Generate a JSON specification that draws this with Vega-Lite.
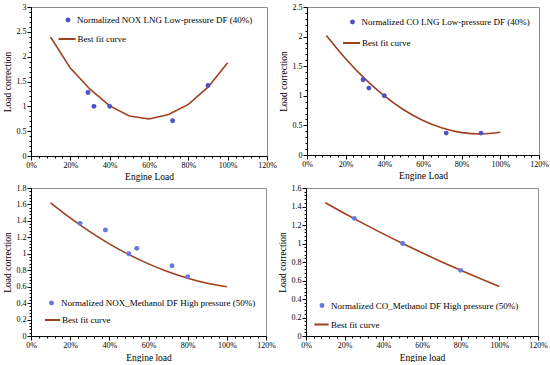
{
  "$schema": "https://vega.github.io/schema/vega-lite/v6.json",
  "padding": {"left": 1, "top": 2, "right": 0, "bottom": 0},
  "background": "white",
  "config": {
    "font": "Liberation Serif",
    "view": {"stroke": "#8c8c8c", "strokeWidth": 1},
    "axis": {
      "grid": false,
      "domainColor": "#000000",
      "tickColor": "#000000",
      "labelColor": "#000000",
      "titleColor": "#000000",
      "labelFont": "Liberation Serif",
      "titleFont": "Liberation Serif",
      "labelFontSize": 8,
      "titleFontSize": 9.5,
      "titleFontWeight": "normal",
      "tickSize": 3,
      "labelPadding": 1,
      "labelFlush": false,
      "labelOverlap": false
    },
    "legend": {
      "labelFont": "Liberation Serif",
      "labelFontSize": 9,
      "labelColor": "#000000",
      "labelLimit": 400,
      "padding": 0,
      "rowPadding": 4
    }
  },
  "datasets": {
    "p1pts": [
      {"load": 0.29, "value": 1.28, "series": "Normalized NOX LNG Low-pressure DF (40%)"},
      {"load": 0.32, "value": 1.0, "series": "Normalized NOX LNG Low-pressure DF (40%)"},
      {"load": 0.40, "value": 1.0, "series": "Normalized NOX LNG Low-pressure DF (40%)"},
      {"load": 0.72, "value": 0.71, "series": "Normalized NOX LNG Low-pressure DF (40%)"},
      {"load": 0.90, "value": 1.42, "series": "Normalized NOX LNG Low-pressure DF (40%)"}
    ],
    "p1fit": [
      {"load": 0.1, "value": 2.39, "series": "Best fit curve"},
      {"load": 0.2, "value": 1.77, "series": "Best fit curve"},
      {"load": 0.3, "value": 1.345, "series": "Best fit curve"},
      {"load": 0.4, "value": 1.01, "series": "Best fit curve"},
      {"load": 0.5, "value": 0.807, "series": "Best fit curve"},
      {"load": 0.6, "value": 0.746, "series": "Best fit curve"},
      {"load": 0.7, "value": 0.834, "series": "Best fit curve"},
      {"load": 0.8, "value": 1.04, "series": "Best fit curve"},
      {"load": 0.9, "value": 1.385, "series": "Best fit curve"},
      {"load": 1.0, "value": 1.88, "series": "Best fit curve"}
    ],
    "p2pts": [
      {"load": 0.29, "value": 1.27, "series": "Normalized CO LNG Low-pressure DF (40%)"},
      {"load": 0.32, "value": 1.13, "series": "Normalized CO LNG Low-pressure DF (40%)"},
      {"load": 0.40, "value": 1.0, "series": "Normalized CO LNG Low-pressure DF (40%)"},
      {"load": 0.72, "value": 0.37, "series": "Normalized CO LNG Low-pressure DF (40%)"},
      {"load": 0.90, "value": 0.37, "series": "Normalized CO LNG Low-pressure DF (40%)"}
    ],
    "p2fit": [
      {"load": 0.1, "value": 2.02, "series": "Best fit curve"},
      {"load": 0.2, "value": 1.627, "series": "Best fit curve"},
      {"load": 0.3, "value": 1.287, "series": "Best fit curve"},
      {"load": 0.4, "value": 1.0, "series": "Best fit curve"},
      {"load": 0.5, "value": 0.765, "series": "Best fit curve"},
      {"load": 0.6, "value": 0.584, "series": "Best fit curve"},
      {"load": 0.7, "value": 0.455, "series": "Best fit curve"},
      {"load": 0.8, "value": 0.378, "series": "Best fit curve"},
      {"load": 0.9, "value": 0.355, "series": "Best fit curve"},
      {"load": 1.0, "value": 0.384, "series": "Best fit curve"}
    ],
    "p3pts": [
      {"load": 0.25, "value": 1.37, "series": "Normalized NOX_Methanol DF High pressure (50%)"},
      {"load": 0.38, "value": 1.29, "series": "Normalized NOX_Methanol DF High pressure (50%)"},
      {"load": 0.50, "value": 1.0, "series": "Normalized NOX_Methanol DF High pressure (50%)"},
      {"load": 0.54, "value": 1.066, "series": "Normalized NOX_Methanol DF High pressure (50%)"},
      {"load": 0.72, "value": 0.855, "series": "Normalized NOX_Methanol DF High pressure (50%)"},
      {"load": 0.80, "value": 0.72, "series": "Normalized NOX_Methanol DF High pressure (50%)"}
    ],
    "p3fit": [
      {"load": 0.1, "value": 1.62, "series": "Best fit curve"},
      {"load": 0.2, "value": 1.436, "series": "Best fit curve"},
      {"load": 0.3, "value": 1.27, "series": "Best fit curve"},
      {"load": 0.4, "value": 1.121, "series": "Best fit curve"},
      {"load": 0.5, "value": 0.99, "series": "Best fit curve"},
      {"load": 0.6, "value": 0.877, "series": "Best fit curve"},
      {"load": 0.7, "value": 0.781, "series": "Best fit curve"},
      {"load": 0.8, "value": 0.703, "series": "Best fit curve"},
      {"load": 0.9, "value": 0.642, "series": "Best fit curve"},
      {"load": 1.0, "value": 0.60, "series": "Best fit curve"}
    ],
    "p4pts": [
      {"load": 0.25, "value": 1.272, "series": "Normalized CO_Methanol DF High pressure (50%)"},
      {"load": 0.50, "value": 1.0, "series": "Normalized CO_Methanol DF High pressure (50%)"},
      {"load": 0.80, "value": 0.71, "series": "Normalized CO_Methanol DF High pressure (50%)"}
    ],
    "p4fit": [
      {"load": 0.1, "value": 1.44, "series": "Best fit curve"},
      {"load": 0.2, "value": 1.324, "series": "Best fit curve"},
      {"load": 0.3, "value": 1.2125, "series": "Best fit curve"},
      {"load": 0.4, "value": 1.104, "series": "Best fit curve"},
      {"load": 0.5, "value": 1.0, "series": "Best fit curve"},
      {"load": 0.6, "value": 0.90, "series": "Best fit curve"},
      {"load": 0.7, "value": 0.803, "series": "Best fit curve"},
      {"load": 0.8, "value": 0.71, "series": "Best fit curve"},
      {"load": 0.9, "value": 0.621, "series": "Best fit curve"},
      {"load": 1.0, "value": 0.535, "series": "Best fit curve"}
    ]
  },
  "resolve": {"scale": {"x": "independent", "y": "independent", "color": "independent", "stroke": "independent"}, "legend": {"color": "independent", "stroke": "independent"}},
  "vconcat": [
    {
      "resolve": {"scale": {"x": "independent", "y": "independent", "color": "independent", "stroke": "independent"}, "legend": {"color": "independent", "stroke": "independent"}},
      "hconcat": [
        {
          "width": 236, "height": 149,
          "encoding": {
            "x": {"field": "load", "type": "quantitative", "scale": {"domain": [0, 1.2], "nice": false}, "axis": {"title": "Engine Load", "values": [0,0.04,0.08,0.12,0.16,0.2,0.24,0.28,0.32,0.36,0.4,0.44,0.48,0.52,0.56,0.6,0.64,0.68,0.72,0.76,0.8,0.84,0.88,0.92,0.96,1,1.04,1.08,1.12,1.16,1.2], "labelExpr": "abs(datum.value*5 - round(datum.value*5)) < 0.001 ? format(datum.value, '.0%') : ''", "tickSize": {"condition": {"test": "abs(datum.value*5 - round(datum.value*5)) < 0.001", "value": 4}, "value": 2}, "titlePadding": 2, "labelOverlap": false, "labelFont": "Liberation Serif", "titleFont": "Liberation Serif", "titleFontWeight": "normal"}},
            "y": {"field": "value", "type": "quantitative", "scale": {"domain": [0, 3], "nice": false}, "axis": {"title": "Load correction", "values": [0,0.1,0.2,0.3,0.4,0.5,0.6,0.7,0.8,0.9,1,1.1,1.2,1.3,1.4,1.5,1.6,1.7,1.8,1.9,2,2.1,2.2,2.3,2.4,2.5,2.6,2.7,2.8,2.9,3], "labelExpr": "abs(datum.value*2 - round(datum.value*2)) < 0.001 ? format(datum.value, '~g') : ''", "tickSize": {"condition": {"test": "abs(datum.value*2 - round(datum.value*2)) < 0.001", "value": 4}, "value": 2}, "titlePadding": 4, "labelOverlap": false, "labelFont": "Liberation Serif", "titleFont": "Liberation Serif", "titleFontWeight": "normal"}}
          },
          "layer": [
            {
              "data": {"name": "p1fit"},
              "mark": {"type": "line", "strokeWidth": 1.6, "interpolate": "linear"},
              "encoding": {
                "stroke": {"field": "series", "type": "nominal", "scale": {"range": ["#a0401e"]}, "legend": {"title": null, "orient": "none", "legendX": 26.5, "legendY": 22.5, "symbolType": "stroke", "symbolSize": 289, "symbolStrokeWidth": 2, "labelOffset": 1}}
              }
            },
            {
              "data": {"name": "p1pts"},
              "mark": {"type": "point", "filled": true, "size": 24, "opacity": 1},
              "encoding": {
                "color": {"field": "series", "type": "nominal", "scale": {"range": ["#5050c8"]}, "legend": {"title": null, "orient": "none", "legendX": 32.5, "legendY": 8.5, "symbolType": "circle", "symbolSize": 24, "labelOffset": 4.5}}
              }
            }
          ]
        },
        {
          "width": 232, "height": 148,
          "encoding": {
            "x": {"field": "load", "type": "quantitative", "scale": {"domain": [0, 1.2], "nice": false}, "axis": {"title": "Engine Load", "values": [0,0.04,0.08,0.12,0.16,0.2,0.24,0.28,0.32,0.36,0.4,0.44,0.48,0.52,0.56,0.6,0.64,0.68,0.72,0.76,0.8,0.84,0.88,0.92,0.96,1,1.04,1.08,1.12,1.16,1.2], "labelExpr": "abs(datum.value*5 - round(datum.value*5)) < 0.001 ? format(datum.value, '.0%') : ''", "tickSize": {"condition": {"test": "abs(datum.value*5 - round(datum.value*5)) < 0.001", "value": 4}, "value": 2}, "titlePadding": 2, "labelOverlap": false, "labelFont": "Liberation Serif", "titleFont": "Liberation Serif", "titleFontWeight": "normal"}},
            "y": {"field": "value", "type": "quantitative", "scale": {"domain": [0, 2.5], "nice": false}, "axis": {"title": "Load correction", "values": [0,0.1,0.2,0.3,0.4,0.5,0.6,0.7,0.8,0.9,1,1.1,1.2,1.3,1.4,1.5,1.6,1.7,1.8,1.9,2,2.1,2.2,2.3,2.4,2.5], "labelExpr": "abs(datum.value*2 - round(datum.value*2)) < 0.001 ? format(datum.value, '~g') : ''", "tickSize": {"condition": {"test": "abs(datum.value*2 - round(datum.value*2)) < 0.001", "value": 4}, "value": 2}, "titlePadding": 4, "labelOverlap": false, "labelFont": "Liberation Serif", "titleFont": "Liberation Serif", "titleFontWeight": "normal"}}
          },
          "layer": [
            {
              "data": {"name": "p2fit"},
              "mark": {"type": "line", "strokeWidth": 1.6, "interpolate": "monotone"},
              "encoding": {
                "stroke": {"field": "series", "type": "nominal", "scale": {"range": ["#a0401e"]}, "legend": {"title": null, "orient": "none", "legendX": 35, "legendY": 26.5, "symbolType": "stroke", "symbolSize": 289, "symbolStrokeWidth": 2, "labelOffset": 1}}
              }
            },
            {
              "data": {"name": "p2pts"},
              "mark": {"type": "point", "filled": true, "size": 24, "opacity": 1},
              "encoding": {
                "color": {"field": "series", "type": "nominal", "scale": {"range": ["#5050c8"]}, "legend": {"title": null, "orient": "none", "legendX": 41, "legendY": 10.5, "symbolType": "circle", "symbolSize": 24, "labelOffset": 4.5}}
              }
            }
          ]
        }
      ],
      "spacing": 0
    },
    {
      "resolve": {"scale": {"x": "independent", "y": "independent", "color": "independent", "stroke": "independent"}, "legend": {"color": "independent", "stroke": "independent"}},
      "hconcat": [
        {
          "width": 235, "height": 148,
          "encoding": {
            "x": {"field": "load", "type": "quantitative", "scale": {"domain": [0, 1.2], "nice": false}, "axis": {"title": "Engine load", "values": [0,0.04,0.08,0.12,0.16,0.2,0.24,0.28,0.32,0.36,0.4,0.44,0.48,0.52,0.56,0.6,0.64,0.68,0.72,0.76,0.8,0.84,0.88,0.92,0.96,1,1.04,1.08,1.12,1.16,1.2], "labelExpr": "abs(datum.value*5 - round(datum.value*5)) < 0.001 ? format(datum.value, '.0%') : ''", "tickSize": {"condition": {"test": "abs(datum.value*5 - round(datum.value*5)) < 0.001", "value": 4}, "value": 2}, "titlePadding": 3, "labelOverlap": false, "labelFont": "Liberation Serif", "titleFont": "Liberation Serif", "titleFontWeight": "normal"}},
            "y": {"field": "value", "type": "quantitative", "scale": {"domain": [0, 1.8], "nice": false}, "axis": {"title": "Load correction", "values": [0,0.04,0.08,0.12,0.16,0.2,0.24,0.28,0.32,0.36,0.4,0.44,0.48,0.52,0.56,0.6,0.64,0.68,0.72,0.76,0.8,0.84,0.88,0.92,0.96,1,1.04,1.08,1.12,1.16,1.2,1.24,1.28,1.32,1.36,1.4,1.44,1.48,1.52,1.56,1.6,1.64,1.68,1.72,1.76,1.8], "labelExpr": "abs(datum.value*5 - round(datum.value*5)) < 0.001 ? format(datum.value, '~g') : ''", "tickSize": {"condition": {"test": "abs(datum.value*5 - round(datum.value*5)) < 0.001", "value": 4}, "value": 2}, "titlePadding": 4, "labelOverlap": false, "labelFont": "Liberation Serif", "titleFont": "Liberation Serif", "titleFontWeight": "normal"}}
          },
          "layer": [
            {
              "data": {"name": "p3fit"},
              "mark": {"type": "line", "strokeWidth": 1.6, "interpolate": "monotone"},
              "encoding": {
                "stroke": {"field": "series", "type": "nominal", "scale": {"range": ["#a0401e"]}, "legend": {"title": null, "orient": "none", "legendX": 13, "legendY": 123.5, "symbolType": "stroke", "symbolSize": 225, "symbolStrokeWidth": 2, "labelOffset": 1}}
              }
            },
            {
              "data": {"name": "p3pts"},
              "mark": {"type": "point", "filled": true, "size": 24, "opacity": 1},
              "encoding": {
                "color": {"field": "series", "type": "nominal", "scale": {"range": ["#6677dd"]}, "legend": {"title": null, "orient": "none", "legendX": 16, "legendY": 110.5, "symbolType": "circle", "symbolSize": 24, "labelOffset": 5}}
              }
            }
          ]
        },
        {
          "width": 232, "height": 148,
          "encoding": {
            "x": {"field": "load", "type": "quantitative", "scale": {"domain": [0, 1.2], "nice": false}, "axis": {"title": "Engine load", "values": [0,0.04,0.08,0.12,0.16,0.2,0.24,0.28,0.32,0.36,0.4,0.44,0.48,0.52,0.56,0.6,0.64,0.68,0.72,0.76,0.8,0.84,0.88,0.92,0.96,1,1.04,1.08,1.12,1.16,1.2], "labelExpr": "abs(datum.value*5 - round(datum.value*5)) < 0.001 ? format(datum.value, '.0%') : ''", "tickSize": {"condition": {"test": "abs(datum.value*5 - round(datum.value*5)) < 0.001", "value": 4}, "value": 2}, "titlePadding": 3, "labelOverlap": false, "labelFont": "Liberation Serif", "titleFont": "Liberation Serif", "titleFontWeight": "normal"}},
            "y": {"field": "value", "type": "quantitative", "scale": {"domain": [0, 1.6], "nice": false}, "axis": {"title": "Load correction", "values": [0,0.04,0.08,0.12,0.16,0.2,0.24,0.28,0.32,0.36,0.4,0.44,0.48,0.52,0.56,0.6,0.64,0.68,0.72,0.76,0.8,0.84,0.88,0.92,0.96,1,1.04,1.08,1.12,1.16,1.2,1.24,1.28,1.32,1.36,1.4,1.44,1.48,1.52,1.56,1.6], "labelExpr": "abs(datum.value*5 - round(datum.value*5)) < 0.001 ? format(datum.value, '~g') : ''", "tickSize": {"condition": {"test": "abs(datum.value*5 - round(datum.value*5)) < 0.001", "value": 4}, "value": 2}, "titlePadding": 4, "labelOverlap": false, "labelFont": "Liberation Serif", "titleFont": "Liberation Serif", "titleFontWeight": "normal"}}
          },
          "layer": [
            {
              "data": {"name": "p4fit"},
              "mark": {"type": "line", "strokeWidth": 1.6, "interpolate": "monotone"},
              "encoding": {
                "stroke": {"field": "series", "type": "nominal", "scale": {"range": ["#a0401e"]}, "legend": {"title": null, "orient": "none", "legendX": 7, "legendY": 128, "symbolType": "stroke", "symbolSize": 205, "symbolStrokeWidth": 2, "labelOffset": 1}}
              }
            },
            {
              "data": {"name": "p4pts"},
              "mark": {"type": "point", "filled": true, "size": 24, "opacity": 1},
              "encoding": {
                "color": {"field": "series", "type": "nominal", "scale": {"range": ["#6677dd"]}, "legend": {"title": null, "orient": "none", "legendX": 11.5, "legendY": 113, "symbolType": "circle", "symbolSize": 24, "labelOffset": 4.5}}
              }
            }
          ]
        }
      ],
      "spacing": 0
    }
  ],
  "spacing": 2
}
